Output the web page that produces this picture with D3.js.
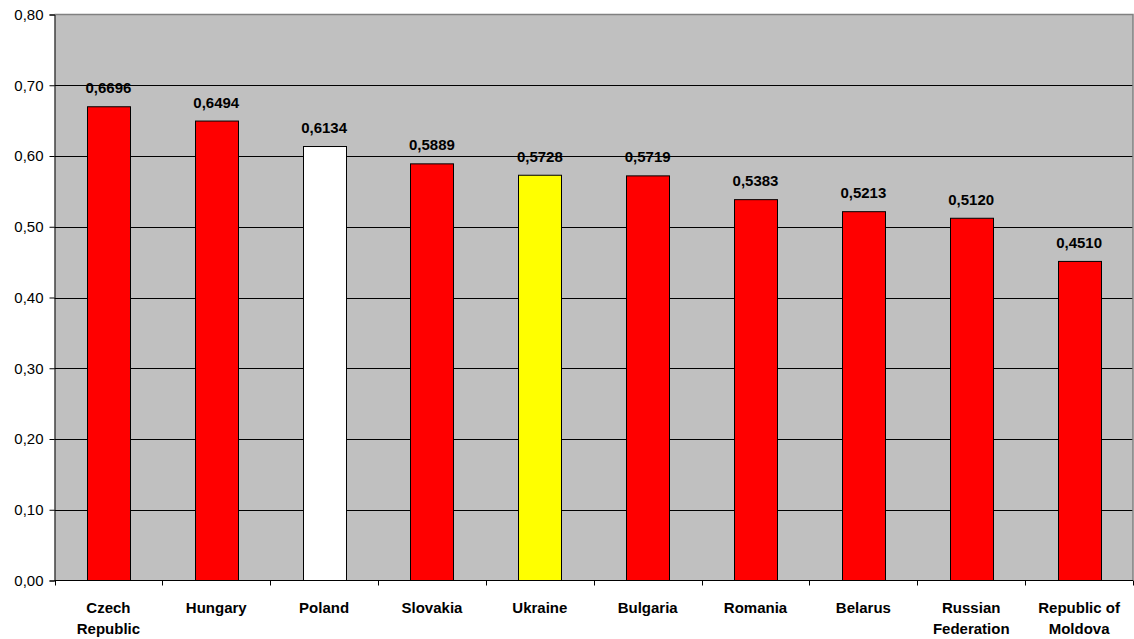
<!DOCTYPE html>
<html><head><meta charset="utf-8">
<script src="https://cdn.jsdelivr.net/npm/d3@7"></script>
<style>body{margin:0;background:#fff}text{font-family:"Liberation Sans",Arial,sans-serif}</style>
</head><body><svg id="c" width="1134" height="639"></svg>
<script>
const categories = [["Czech","Republic"],["Hungary"],["Poland"],["Slovakia"],["Ukraine"],["Bulgaria"],["Romania"],["Belarus"],["Russian","Federation"],["Republic of","Moldova"]];
const values = [0.6696,0.6494,0.6134,0.5889,0.5728,0.5719,0.5383,0.5213,0.5120,0.4510];
const barColors = ["#ff0000","#ff0000","#ffffff","#ff0000","#ffff00","#ff0000","#ff0000","#ff0000","#ff0000","#ff0000"];
const yTicks = [0,0.1,0.2,0.3,0.4,0.5,0.6,0.7,0.8];

const svg = d3.select("#c");
const L=54.5, R=1133, T=14.5, B=580.5;
const x = d3.scaleBand().domain(d3.range(categories.length)).range([L,R]).paddingInner(0.6).paddingOuter(0.3);
const y = d3.scaleLinear().domain([0,0.8]).range([B,T]);
const fmt = v => v.toFixed(2).replace(".",",");
const fmt4 = v => v.toFixed(4).replace(".",",");

svg.append("rect").attr("x",L).attr("y",T).attr("width",R-L).attr("height",B-T).attr("fill","#c0c0c0");
// gridlines
svg.append("g").selectAll("line").data(yTicks.filter(d=>d>0&&d<0.8)).join("line")
  .attr("x1",L).attr("x2",R).attr("y1",d=>Math.round(y(d))+0.5).attr("y2",d=>Math.round(y(d))+0.5)
  .attr("stroke","#000").attr("stroke-width",1);
// border top/right
svg.append("path").attr("d",`M${L},${T}H${R}V${B}`).attr("fill","none").attr("stroke","#808080").attr("stroke-width",1.5);

// bars
svg.append("g").selectAll("rect").data(values).join("rect")
  .attr("x",(d,i)=>Math.round(x(i))+0.5).attr("width",Math.round(x.bandwidth()))
  .attr("y",d=>y(d)).attr("height",d=>B-y(d))
  .attr("fill",(d,i)=>barColors[i]).attr("stroke","#000").attr("stroke-width",1);

// value labels
svg.append("g").selectAll("text").data(values).join("text")
  .attr("x",(d,i)=>x(i)+x.bandwidth()/2).attr("y",d=>y(d)-13.5)
  .attr("text-anchor","middle").attr("font-size","15px").attr("font-weight","bold").attr("fill","#000")
  .text(d=>fmt4(d));

// y axis
const ya = svg.append("g").attr("transform",`translate(${L},0)`)
  .call(d3.axisLeft(y).tickValues(yTicks).tickFormat(fmt).tickSize(5).tickPadding(6));
ya.select(".domain").attr("stroke","#000");
ya.selectAll("line").attr("stroke","#000");
ya.selectAll("text").attr("font-size","15px").attr("fill","#000").style("font-family",'"Liberation Sans",Arial,sans-serif');

// x axis
svg.append("line").attr("x1",L).attr("x2",R).attr("y1",B).attr("y2",B).attr("stroke","#000");
svg.append("g").selectAll("line").data(d3.range(categories.length+1)).join("line")
  .attr("x1",i=>Math.round(L+i*(R-L)/categories.length)+0.5).attr("x2",i=>Math.round(L+i*(R-L)/categories.length)+0.5)
  .attr("y1",B).attr("y2",B+5).attr("stroke","#000");
const cl = svg.append("g").selectAll("text").data(categories).join("text")
  .attr("x",(d,i)=>x(i)+x.bandwidth()/2).attr("y",613)
  .attr("text-anchor","middle").attr("font-size","15px").attr("font-weight","bold").attr("fill","#000");
cl.each(function(d,i){
  const t=d3.select(this);
  d.forEach((s,k)=>t.append("tspan").attr("x",x(i)+x.bandwidth()/2).attr("dy",k?20.5:0).text(s));
});
</script></body></html>
